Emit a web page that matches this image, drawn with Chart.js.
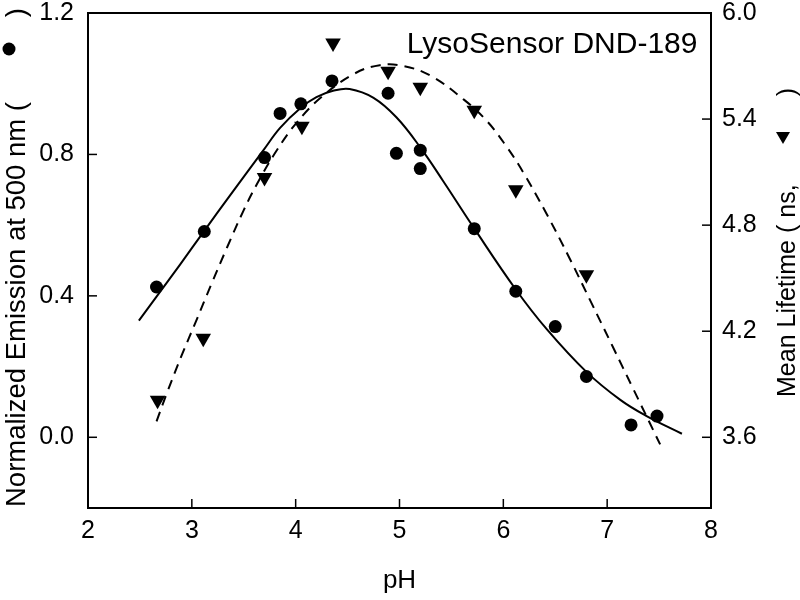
<!DOCTYPE html>
<html><head><meta charset="utf-8">
<script src="https://cdn.jsdelivr.net/npm/chart.js@4/dist/chart.umd.min.js"></script>
<style>html,body{margin:0;padding:0;background:#fff}#wrap{width:800px;height:600px}</style>
</head><body><div id="wrap"><canvas id="c" width="800" height="600"></canvas></div>
<script>
// ---- data ----
const emissionPH = [2.66, 3.12, 3.70, 3.85, 4.05, 4.35, 4.89, 4.97, 5.20, 5.20, 5.72, 6.12, 6.50, 6.80, 7.23, 7.48];
const emissionValues = [0.425, 0.582, 0.791, 0.916, 0.943, 1.008, 0.973, 0.803, 0.812, 0.760, 0.590, 0.413, 0.313, 0.172, 0.035, 0.060];

const lifetimePH = [2.67, 3.11, 3.70, 4.06, 4.36, 4.89, 5.20, 5.72, 6.12, 6.80];
const lifetimeValues = [3.81, 4.16, 5.07, 5.36, 5.83, 5.67, 5.58, 5.45, 5.00, 4.52];

const emissionFitPH = [2.49, 2.66, 2.89, 3.12, 3.37, 3.69, 3.85, 4.05, 4.20, 4.36, 4.52, 4.75, 4.97, 5.20, 5.42, 5.71, 6.12, 6.42, 6.80, 7.13, 7.38, 7.72];
const emissionFitValues = [0.330, 0.398, 0.490, 0.584, 0.685, 0.812, 0.875, 0.932, 0.962, 0.980, 0.985, 0.960, 0.905, 0.820, 0.725, 0.595, 0.418, 0.305, 0.185, 0.105, 0.060, 0.010];

const lifetimeFitPH = [2.66, 2.76, 2.90, 3.05, 3.18, 3.34, 3.50, 3.63, 3.82, 4.01, 4.24, 4.56, 4.81, 5.04, 5.30, 5.62, 5.84, 6.03, 6.19, 6.42, 6.64, 6.84, 7.06, 7.25, 7.51];
const lifetimeFitValues = [3.69, 3.85, 4.06, 4.27, 4.455, 4.675, 4.885, 5.035, 5.225, 5.38, 5.52, 5.655, 5.705, 5.70, 5.645, 5.51, 5.39, 5.245, 5.10, 4.86, 4.61, 4.37, 4.105, 3.875, 3.56];

const xTicks = [2, 3, 4, 5, 6, 7, 8];
const leftTicks = [0.0, 0.4, 0.8, 1.2];
const rightTicks = [3.6, 4.2, 4.8, 5.4, 6.0];

const xTitle = 'pH';
const leftTitle = 'Normalized Emission at 500 nm (';
const rightTitle = 'Mean Lifetime ( ns,';
const annotationText = 'LysoSensor DND-189';
const annotationAt = {x: 5.07, y: 1.087};

// ---- chart ----
const FONT = '"Liberation Sans", Arial, Helvetica, sans-serif';
Chart.defaults.font.family = FONT;
Chart.defaults.color = '#000';

const toXY = (xs, ys) => xs.map((x, i) => ({x: x, y: ys[i]}));
const noPad = s => { s.paddingTop = 0; s.paddingBottom = 0; s.paddingLeft = 0; s.paddingRight = 0; };

const deco = {
  id: 'deco',
  afterDraw(chart) {
    const {ctx, chartArea: a, scales} = chart;
    ctx.save();
    ctx.strokeStyle = '#000';
    ctx.lineWidth = 2;
    ctx.strokeRect(a.left, a.top, a.right - a.left, a.bottom - a.top);
    ctx.lineWidth = 1.5;
    const L = 9;
    const seg = (x1, y1, x2, y2) => { ctx.beginPath(); ctx.moveTo(x1, y1); ctx.lineTo(x2, y2); ctx.stroke(); };
    xTicks.forEach(v => { const x = scales.x.getPixelForValue(v); seg(x, a.bottom, x, a.bottom - L); });
    leftTicks.forEach(v => { const y = scales.y.getPixelForValue(v); seg(a.left, y, a.left + L, y); });
    rightTicks.forEach(v => { const y = scales.y1.getPixelForValue(v); seg(a.right, y, a.right - L, y); });

    ctx.fillStyle = '#000';
    // annotation
    ctx.font = '30px ' + FONT;
    ctx.textAlign = 'left';
    ctx.textBaseline = 'alphabetic';
    ctx.fillText(annotationText, scales.x.getPixelForValue(annotationAt.x), scales.y.getPixelForValue(annotationAt.y));

    // left title (rotated)
    ctx.font = '27.5px ' + FONT;
    ctx.save(); ctx.translate(25, a.bottom - 1); ctx.rotate(-Math.PI / 2);
    ctx.textAlign = 'left'; ctx.fillText(leftTitle, 0, 0); ctx.restore();
    ctx.save(); ctx.translate(25, 8); ctx.rotate(-Math.PI / 2);
    ctx.textAlign = 'right'; ctx.fillText(')', 0, 0); ctx.restore();
    ctx.beginPath(); ctx.arc(9, 49, 6.5, 0, Math.PI * 2); ctx.fill();

    // right title (rotated, reads bottom-to-top)
    ctx.font = '25px ' + FONT;
    ctx.save(); ctx.translate(795, 397); ctx.rotate(-Math.PI / 2);
    ctx.textAlign = 'left'; ctx.fillText(rightTitle, 0, 0); ctx.restore();
    ctx.save(); ctx.translate(795, 88); ctx.rotate(-Math.PI / 2);
    ctx.textAlign = 'right'; ctx.fillText(')', 0, 0); ctx.restore();
    ctx.beginPath(); ctx.moveTo(776, 132); ctx.lineTo(790, 132); ctx.lineTo(783, 144); ctx.closePath(); ctx.fill();
    ctx.restore();
  }
};

new Chart(document.getElementById('c'), {
  type: 'scatter',
  data: {
    datasets: [
      {
        label: 'Emission', data: toXY(emissionPH, emissionValues), yAxisID: 'y',
        pointStyle: 'circle', pointRadius: 6.5, pointBackgroundColor: '#000', pointBorderWidth: 0, showLine: false
      },
      {
        label: 'Lifetime', data: toXY(lifetimePH, lifetimeValues), yAxisID: 'y1',
        pointStyle: 'triangle', rotation: 180, pointRadius: 9, pointBackgroundColor: '#000', pointBorderWidth: 0, showLine: false
      },
      {
        label: 'Emission fit', data: toXY(emissionFitPH, emissionFitValues), yAxisID: 'y',
        showLine: true, pointRadius: 0, borderColor: '#000', borderWidth: 2, tension: 0.4, fill: false
      },
      {
        label: 'Lifetime fit', data: toXY(lifetimeFitPH, lifetimeFitValues), yAxisID: 'y1',
        showLine: true, pointRadius: 0, borderColor: '#000', borderWidth: 2, borderDash: [10, 7], tension: 0.4, fill: false
      }
    ]
  },
  options: {
    responsive: false, animation: false, devicePixelRatio: 1,
    layout: {padding: {top: 13, left: 0, right: 0, bottom: 0}},
    plugins: {legend: {display: false}, tooltip: {enabled: false}},
    scales: {
      x: {
        type: 'linear', position: 'bottom', min: 2, max: 8,
        afterBuildTicks: s => { s.ticks = xTicks.map(v => ({value: v})); },
        afterFit: s => { s.height = 92; noPad(s); },
        grid: {display: false, drawTicks: false}, border: {display: false},
        ticks: {font: {size: 25}, color: '#000', padding: 8, maxRotation: 0, callback: v => String(v)},
        title: {display: true, text: xTitle, font: {size: 26}, color: '#000', padding: {top: 0, bottom: 4}}
      },
      y: {
        type: 'linear', position: 'left', min: -0.2, max: 1.2,
        afterBuildTicks: s => { s.ticks = leftTicks.map(v => ({value: v})); },
        afterFit: s => { s.width = 88; noPad(s); },
        grid: {display: false, drawTicks: false}, border: {display: false},
        ticks: {font: {size: 25}, color: '#000', padding: 14, callback: v => v.toFixed(1)}
      },
      y1: {
        type: 'linear', position: 'right', min: 3.2, max: 6.0,
        afterBuildTicks: s => { s.ticks = rightTicks.map(v => ({value: v})); },
        afterFit: s => { s.width = 89; noPad(s); },
        grid: {display: false, drawTicks: false}, border: {display: false},
        ticks: {font: {size: 25}, color: '#000', padding: 11, callback: v => v.toFixed(1)}
      }
    }
  },
  plugins: [deco]
});
</script>
</body></html>
